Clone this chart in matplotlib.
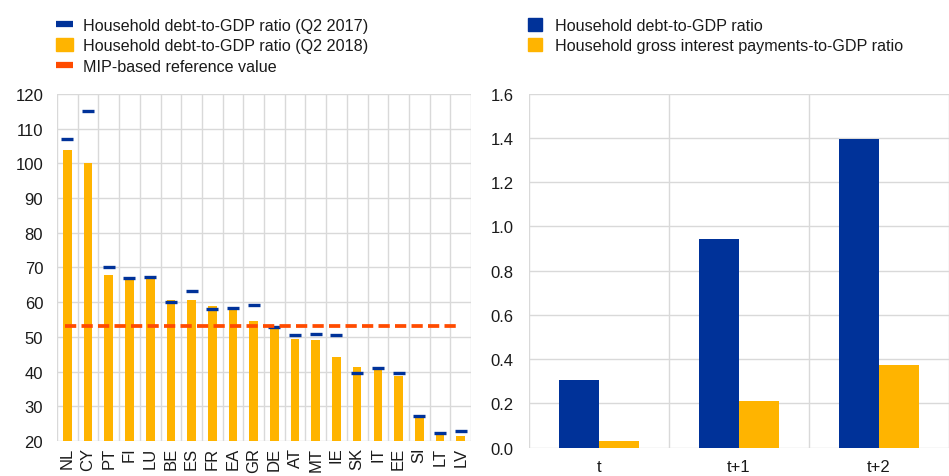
import numpy as np
import matplotlib.pyplot as plt
from matplotlib.lines import Line2D
from matplotlib.patches import Patch

# === DATA ===
countries = ['NL', 'CY', 'PT', 'FI', 'LU', 'BE', 'ES', 'FR', 'EA', 'GR',
             'DE', 'AT', 'MT', 'IE', 'SK', 'IT', 'EE', 'SI', 'LT', 'LV']
debt_2018 = [103.8, 100.1, 67.8, 66.5, 66.8, 60.7, 60.6, 59.0, 57.8, 54.7,
             52.6, 49.4, 49.1, 44.2, 41.3, 40.5, 38.8, 26.6, 21.8, 21.5]
debt_2017 = [106.9, 115.0, 70.0, 66.9, 67.2, 60.1, 63.1, 58.0, 58.2, 59.1,
             52.8, 50.5, 50.8, 50.5, 39.5, 41.0, 39.5, 27.1, 22.2, 22.8]
mip_ref = 53.0

horizons = ['t', 't+1', 't+2']
debt_ratio = [0.305, 0.945, 1.394]
interest_ratio = [0.029, 0.212, 0.375]

# === STYLE ===
blue = '#003299'
yellow = '#FFB400'
red = '#FF4B00'
grid_c = '#d9d9d9'
plt.rcParams['font.family'] = ['Liberation Sans', 'DejaVu Sans']
plt.rcParams['font.size'] = 12
plt.rcParams['text.color'] = '#1a1a1a'
plt.rcParams['xtick.color'] = '#1a1a1a'
plt.rcParams['ytick.color'] = '#1a1a1a'
leg_fs = 11.6

fig = plt.figure(figsize=(9.49, 4.77), dpi=100)

# === LEFT PANEL ===
ax1 = fig.add_axes([0.0601, 0.0734, 0.4362, 0.7275])
x = np.arange(len(countries))
ax1.bar(x, np.array(debt_2018) - 20, bottom=20, width=0.42, color=yellow, zorder=3)
ax1.plot(x, debt_2017, linestyle='none', marker='_', markersize=8, mew=2.4,
         color=blue, zorder=4)
ax1.hlines(mip_ref, -0.1, len(countries) - 1, color=red, lw=2.7,
           linestyles=(0, (3, 1.4)), zorder=5)
ax1.set_ylim(20, 120)
ax1.set_yticks(np.arange(20, 121, 10))
ax1.set_xlim(-0.5, len(countries) - 0.5)
ax1.set_xticks(x)
ax1.set_xticklabels(countries, rotation=90)
ax1.set_xticks(np.arange(-0.5, len(countries)), minor=True)
ax1.grid(True, which='minor', axis='x', color=grid_c, lw=1, zorder=0)
ax1.grid(True, which='major', axis='y', color=grid_c, lw=1, zorder=0)
ax1.tick_params(which='both', length=0)
ax1.tick_params(axis='y', pad=10)
ax1.tick_params(axis='x', pad=4)
for s in ax1.spines.values():
    s.set_visible(False)

handles1 = [Line2D([], [], color=blue, lw=4.5, solid_capstyle='butt'),
            Patch(color=yellow),
            Line2D([], [], color=red, lw=4.5, solid_capstyle='butt')]
labels1 = ['Household debt-to-GDP ratio (Q2 2017)',
           'Household debt-to-GDP ratio (Q2 2018)',
           'MIP-based reference value']
fig.legend(handles1, labels1, loc='upper left', bbox_to_anchor=(0.059, 0.961),
           frameon=False, fontsize=leg_fs, handlelength=1.05, handleheight=0.85,
           handletextpad=0.62, labelspacing=0.35, borderaxespad=0, borderpad=0)

# === RIGHT PANEL ===
ax2 = fig.add_axes([0.5571, 0.0593, 0.4429, 0.7421])
xh = np.arange(len(horizons))
w = 0.285
ax2.bar(xh - w / 2, debt_ratio, width=w, color=blue, zorder=3)
ax2.bar(xh + w / 2, interest_ratio, width=w, color=yellow, zorder=3)
ax2.set_ylim(0, 1.6)
ax2.set_yticks(np.arange(0, 1.61, 0.2))
ax2.set_yticklabels([f'{v:.1f}' for v in np.arange(0, 1.61, 0.2)])
ax2.set_xlim(-0.5, len(horizons) - 0.5)
ax2.set_xticks(xh)
ax2.set_xticklabels(horizons)
ax2.set_xticks(np.arange(-0.5, len(horizons)), minor=True)
ax2.grid(True, which='minor', axis='x', color=grid_c, lw=1, zorder=0)
ax2.grid(True, which='major', axis='y', color=grid_c, lw=1, zorder=0)
ax2.tick_params(which='both', length=0)
ax2.tick_params(axis='y', pad=11)
ax2.tick_params(axis='x', pad=8)
for s in ax2.spines.values():
    s.set_visible(False)

handles2 = [Patch(color=blue), Patch(color=yellow)]
labels2 = ['Household debt-to-GDP ratio',
           'Household gross interest payments-to-GDP ratio']
fig.legend(handles2, labels2, loc='upper left', bbox_to_anchor=(0.5564, 0.961),
           frameon=False, fontsize=leg_fs, handlelength=0.87, handleheight=0.87,
           handletextpad=0.8, labelspacing=0.35, borderaxespad=0, borderpad=0)

fig.savefig('out.png', dpi=100)
